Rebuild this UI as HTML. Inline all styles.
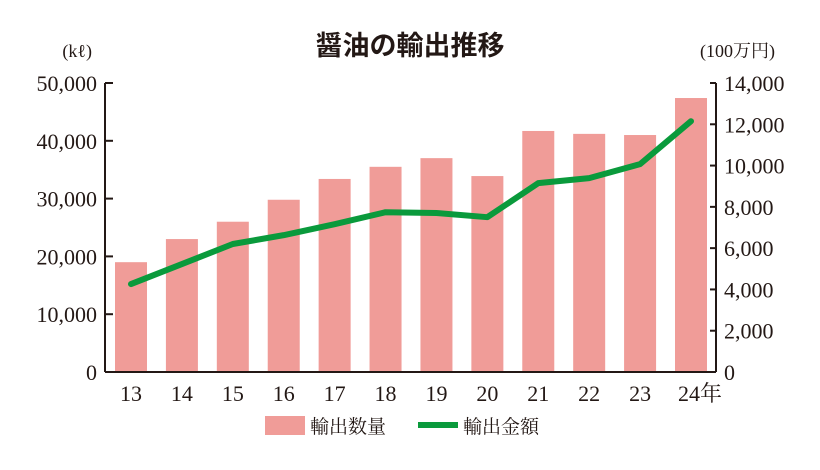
<!DOCTYPE html>
<html><head><meta charset="utf-8"><style>
body{margin:0;background:#fff;}
svg text{font-family:"Liberation Serif","Noto Serif CJK SC",serif;fill:#231815;}
</style></head><body>
<svg width="820" height="465" viewBox="0 0 820 465">
<text x="410" y="55" text-anchor="middle" font-size="27" font-weight="bold" style="font-family:'Liberation Sans','Noto Sans CJK JP',sans-serif">醤油の輸出推移</text>
<text x="92" y="57" text-anchor="end" font-size="18">(kℓ)</text>
<text x="700" y="57" font-size="18">(100万円)</text>
<g id="bars"></g>
<g id="axes"></g>
<g id="line"></g>
<g>
<rect x="265" y="416" width="40" height="19" fill="#f09c98"/>
<text x="310" y="433" font-size="19" style="font-family:'Liberation Serif','Noto Serif CJK JP',serif">輸出数量</text>
<line x1="418" y1="425" x2="458" y2="425" stroke="#0a9a3c" stroke-width="6"/>
<text x="463" y="433" font-size="19" style="font-family:'Liberation Serif','Noto Serif CJK JP',serif">輸出金額</text>
</g>
</svg>
<script>
const categories=["13","14","15","16","17","18","19","20","21","22","23","24年"];
const volume=[19000,23000,26000,29800,33400,35500,37000,33900,41700,41200,41000,47400];
const amount=[4260,5230,6200,6630,7160,7740,7700,7500,9150,9390,10070,12150];
const leftTicks=[0,10000,20000,30000,40000,50000];
const rightTicks=[0,2000,4000,6000,8000,10000,12000,14000];
const NS="http://www.w3.org/2000/svg";
const X0=105,X1=716,Y0=372,Y1=83;
const yL=v=>Y0-(v/50000)*(Y0-Y1);
const yR=v=>Y0-(v/14000)*(Y0-Y1);
const xC=i=>131+i*(691-131)/(categories.length-1);
function mk(t,a,p){const e=document.createElementNS(NS,t);for(const k in a)e.setAttribute(k,a[k]);p.appendChild(e);return e;}
const fmt=v=>v.toLocaleString("en-US");
const bars=document.getElementById("bars"),axes=document.getElementById("axes"),line=document.getElementById("line");
volume.forEach((v,i)=>{const r=mk("rect",{x:xC(i)-16,y:yL(v),width:32,height:Y0-yL(v),fill:"#f09c98"},bars);

});
mk("line",{x1:X0,y1:Y1,x2:X0,y2:Y0,stroke:"#231815","stroke-width":2},axes);
mk("line",{x1:X1,y1:Y1,x2:X1,y2:Y0,stroke:"#231815","stroke-width":2},axes);
mk("line",{x1:X0,y1:Y0,x2:X1,y2:Y0,stroke:"#231815","stroke-width":2},axes);
leftTicks.forEach(v=>{mk("line",{x1:X0,y1:yL(v),x2:X0+8,y2:yL(v),stroke:"#231815","stroke-width":2},axes);
const t=mk("text",{x:X0-8,y:yL(v)+8,"text-anchor":"end","font-size":"22"},axes);t.textContent=fmt(v);

});
rightTicks.forEach(v=>{mk("line",{x1:X1-6,y1:yR(v),x2:X1,y2:yR(v),stroke:"#231815","stroke-width":2},axes);
const t=mk("text",{x:X1+8,y:yR(v)+8,"font-size":"22"},axes);t.textContent=fmt(v);

});
categories.forEach((c,i)=>{const t=mk("text",{x:xC(i)+(c.length>2?9:0),y:401,"text-anchor":"middle","font-size":"22",style:"font-family:'Liberation Serif','Noto Serif CJK JP',serif"},axes);t.textContent=c;

});
const pl=mk("polyline",{points:amount.map((v,i)=>xC(i)+","+yR(v)).join(" "),fill:"none",stroke:"#0a9a3c","stroke-width":6,"stroke-linejoin":"round","stroke-linecap":"round"},line);


</script>
</body></html>
